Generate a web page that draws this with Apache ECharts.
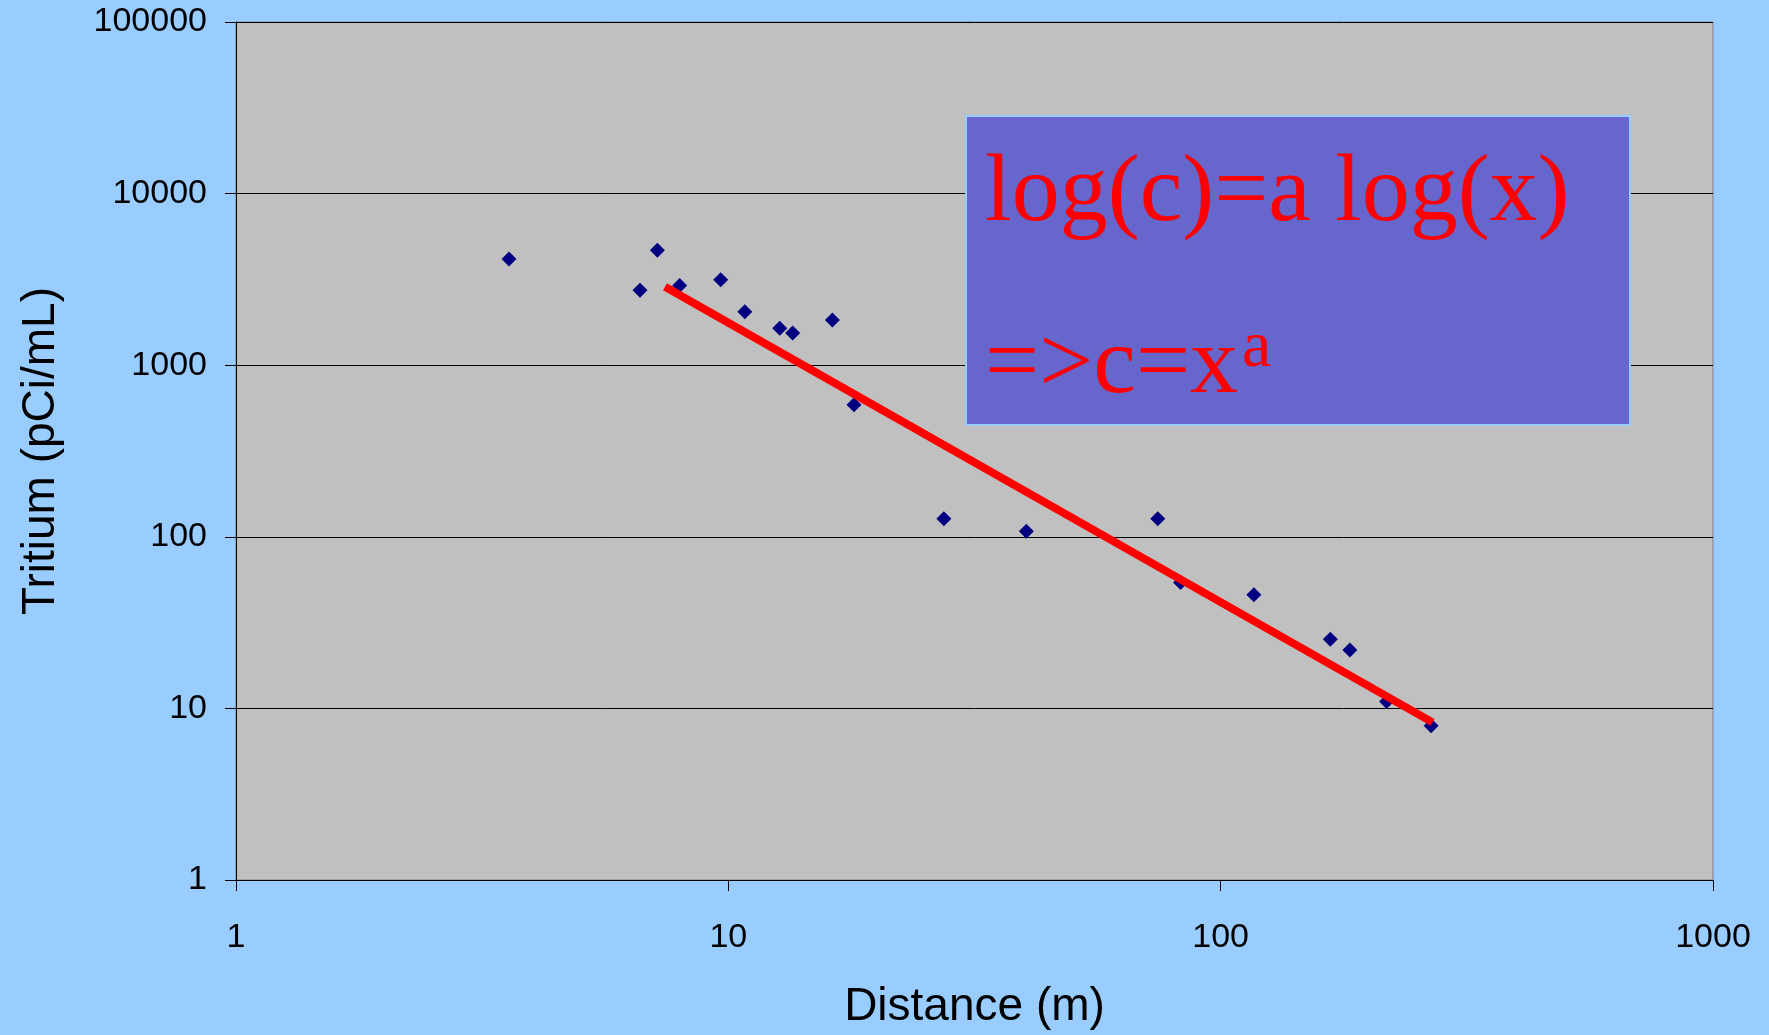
<!DOCTYPE html>
<html><head><meta charset="utf-8">
<script src="https://cdn.jsdelivr.net/npm/echarts@6/dist/echarts.min.js"></script>
<style>html,body{margin:0;padding:0;background:#99CCFF}#c{width:1769px;height:1035px}</style>
</head><body><div id="c"></div>
<script>
// Data
const distance = [3.585, 7.175, 6.615, 7.965, 9.65, 10.8, 12.72, 13.51, 16.27, 18.0, 27.4, 40.3, 74.5, 82.9, 116.8, 167, 183, 217.3, 267.6];
const tritium  = [4155, 4670, 2730, 2909, 3152, 2052, 1641, 1540, 1834, 589, 127.2, 107.8, 127.2, 54.2, 45.9, 25.3, 21.9, 10.98, 7.92];
const trendDistance = [7.435, 269.4];
const trendTritium  = [2869, 8.29];
const xTickLabels = ['1', '10', '100', '1000'];
const yTickLabels = ['1', '10', '100', '1000', '10000', '100000'];
const xTitle = 'Distance (m)';
const yTitle = 'Tritium (pCi/mL)';
const formulaLine1 = 'log(c)=a log(x)';
const formulaLine2 = '=>c=x';
const formulaSup = 'a';

const chart = echarts.init(document.getElementById('c'), null, {renderer: 'canvas'});
const labelFrom = (arr) => (v) => {
  const i = Math.round(Math.log10(v));
  return arr[i] !== undefined ? arr[i] : '';
};
const axisFont = 'Liberation Sans';
const option = {
  backgroundColor: '#99CCFF',
  animation: false,
  grid: {
    left: 236, right: 56, top: 22, bottom: 154,
    show: true, backgroundColor: '#C0C0C0', borderColor: '#808080', borderWidth: 1
  },
  xAxis: {
    type: 'log', logBase: 10, min: 1, max: 1000, interval: 1,
    name: xTitle, nameLocation: 'middle', nameGap: 104,
    nameTextStyle: {fontFamily: axisFont, fontSize: 46, color: '#000'},
    axisLine: {show: true, onZero: false, lineStyle: {color: '#000', width: 1}},
    axisTick: {show: true, inside: false, length: 11, lineStyle: {color: '#000'}},
    axisLabel: {show: true, margin: 41, fontFamily: axisFont, fontSize: 34, color: '#000', formatter: labelFrom(xTickLabels)},
    splitLine: {show: false},
    minorTick: {show: false}
  },
  yAxis: {
    type: 'log', logBase: 10, min: 1, max: 100000, interval: 1,
    name: yTitle, nameLocation: 'middle', nameGap: 172, nameRotate: 90,
    nameTextStyle: {fontFamily: axisFont, fontSize: 46, color: '#000'},
    axisLine: {show: true, onZero: false, lineStyle: {color: '#000', width: 1}},
    axisTick: {show: true, inside: false, length: 11, lineStyle: {color: '#000'}},
    axisLabel: {show: true, margin: 29, fontFamily: axisFont, fontSize: 34, color: '#000', padding: [4, 0, 0, 0], formatter: labelFrom(yTickLabels)},
    splitLine: {show: true, lineStyle: {color: '#000', width: 1}}
  },
  series: [
    {
      type: 'scatter', z: 3,
      symbol: 'diamond', symbolSize: [15, 15],
      itemStyle: {color: '#000080', opacity: 1},
      data: distance.map((d, i) => [d, tritium[i]])
    },
    {
      type: 'line', z: 4,
      symbol: 'none',
      lineStyle: {color: '#FF0000', width: 8, cap: 'butt', opacity: 1},
      data: trendDistance.map((d, i) => [d, trendTritium[i]])
    }
  ],
  graphic: [
    {type: 'rect', z: 100, shape: {x: 966, y: 116, width: 664, height: 309},
     style: {fill: '#6666CC', stroke: '#99CCFF', lineWidth: 2}},
    {type: 'text', z: 101, x: 985, y: 195,
     style: {text: formulaLine1, fill: '#FF0000', font: '96px "Liberation Serif"', verticalAlign: 'middle', align: 'left'}},
    {type: 'text', z: 101, x: 985, y: 367,
     style: {text: formulaLine2, fill: '#FF0000', font: '96px "Liberation Serif"', verticalAlign: 'middle', align: 'left'}},
    {type: 'text', z: 101, x: 1242, y: 349,
     style: {text: formulaSup, fill: '#FF0000', font: '66px "Liberation Serif"', verticalAlign: 'middle', align: 'left'}}
  ]
};
chart.setOption(option);
</script>
</body></html>
